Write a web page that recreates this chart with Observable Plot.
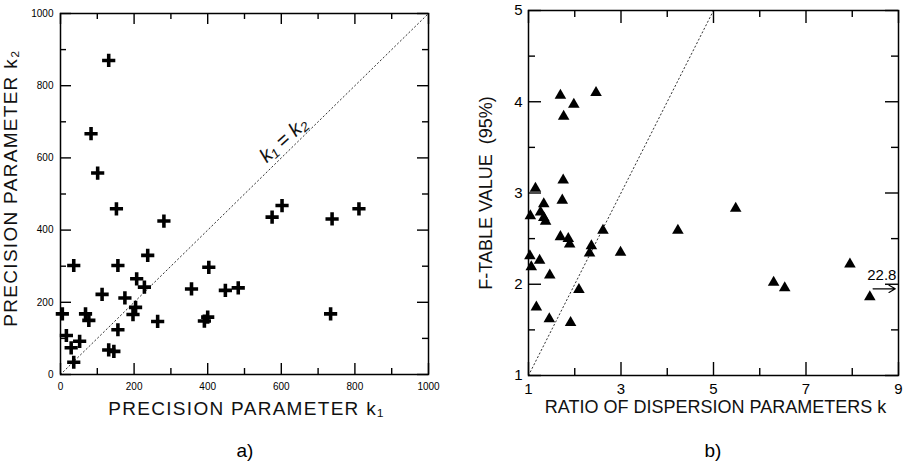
<!DOCTYPE html>
<html>
<head>
<meta charset="utf-8">
<script src="https://cdn.jsdelivr.net/npm/d3@7"></script>
<script src="https://cdn.jsdelivr.net/npm/@observablehq/plot@0.6"></script>
<style>
  html, body { margin: 0; padding: 0; background: #fff; }
  #wrap { position: relative; width: 909px; height: 476px; overflow: hidden; font-family: "Liberation Sans", Arial, sans-serif; }
  #wrap svg { position: absolute; top: 0; overflow: visible; }
  .panel-tag { position: absolute; font-size: 19px; transform: translateX(-50%); }
</style>
</head>
<body>
<div id="wrap"></div>
<script>
// Panel a): precision parameters k1 vs k2
const k1 = [152, 281, 575, 602, 738, 811, 36, 156, 237, 403, 207, 228, 113, 175, 356, 448, 483,
            5, 68, 77, 204, 197, 264, 391, 400, 734, 156, 16, 52, 29, 131, 145, 36, 131, 83, 101];
const k2 = [459, 425, 436, 468, 431, 459, 302, 302, 330, 297, 265, 242, 222, 212, 237, 233, 240,
            168, 168, 150, 186, 166, 147, 148, 159, 168, 124, 108, 92, 74, 68, 64, 34, 870, 667, 558];
const kMajor = [0, 200, 400, 600, 800, 1000];
const kMinor = [100, 300, 500, 700, 900];
const kDiagonal = [0, 1000];

// Panel b): ratio of dispersion parameters vs F-table value
const ratioK = [1.69, 1.98, 1.76, 2.46, 1.75, 1.15, 1.73, 1.33, 1.26, 1.04, 1.33, 1.37, 5.48, 2.61, 4.23,
                1.69, 1.86, 1.89, 2.36, 2.32, 2.99, 1.03, 1.24, 1.06, 1.46, 7.95, 6.30, 6.54, 2.09, 8.38,
                1.17, 1.45, 1.91];
const fValue = [4.07, 3.97, 3.84, 4.10, 3.14, 3.05, 2.92, 2.88, 2.79, 2.75, 2.73, 2.69, 2.83, 2.59, 2.59,
                2.52, 2.50, 2.44, 2.42, 2.34, 2.35, 2.31, 2.26, 2.19, 2.10, 2.22, 2.02, 1.96, 1.94, 1.86,
                1.75, 1.62, 1.58];
const rMajorX = [1, 3, 5, 7, 9];
const rMinorX = [2, 4, 6, 8];
const rMajorY = [1, 2, 3, 4, 5];
const rMinorY = [1.5, 2.5, 3.5, 4.5];
const rDiagonal = [1, 5];
// Off-scale point: value 22.8 indicated by an arrow at the right edge
const offScale = {label: "22.8", x1: 8.45, x2: 8.93, y: 1.95, labelX: 8.64, labelY: 2.1};

const font = '"Liberation Sans", Arial, sans-serif';

// Bold filled plus marker
const plusSymbol = {
  draw(ctx, size) {
    const r = Math.sqrt(size / Math.PI), t = r * 0.27;
    ctx.moveTo(-t, -r); ctx.lineTo(t, -r); ctx.lineTo(t, -t); ctx.lineTo(r, -t);
    ctx.lineTo(r, t); ctx.lineTo(t, t); ctx.lineTo(t, r); ctx.lineTo(-t, r);
    ctx.lineTo(-t, t); ctx.lineTo(-r, t); ctx.lineTo(-r, -t); ctx.lineTo(-t, -t);
    ctx.closePath();
  }
};

// Inward ticks on all four sides of the frame
function frameTicks(xs, ys, len, fw, fh) {
  const o = {stroke: "black", strokeWidth: 1.4};
  return [
    Plot.tickX(xs, {x: d => d, insetTop: fh - len, ...o}),
    Plot.tickX(xs, {x: d => d, insetBottom: fh - len, ...o}),
    Plot.tickY(ys, {y: d => d, insetRight: fw - len, ...o}),
    Plot.tickY(ys, {y: d => d, insetLeft: fw - len, ...o})
  ];
}

const title = {textAnchor: "middle", lineAnchor: "middle", fill: "#111"};

// ---- panel a)
const A = {w: 450, h: 476, ml: 60, mr: 22, mt: 13, mb: 102};
const aFW = A.w - A.ml - A.mr, aFH = A.h - A.mt - A.mb;
const pointsA = k1.map((v, i) => ({k1: v, k2: k2[i]}));

const plotA = Plot.plot({
  width: A.w, height: A.h,
  marginLeft: A.ml, marginRight: A.mr, marginTop: A.mt, marginBottom: A.mb,
  x: {domain: [0, 1000]},
  y: {domain: [0, 1000]},
  style: {fontFamily: font, background: "transparent"},
  marks: [
    Plot.line(kDiagonal, {x: d => d, y: d => d, stroke: "#333", strokeWidth: 1, strokeDasharray: "1.3,2.7"}),
    Plot.text(["k\u2081 = k\u2082"], {x: 606, y: 650, rotate: -42, fontSize: 20, fontStyle: "italic", fill: "#111"}),
    Plot.dot(pointsA, {x: "k1", y: "k2", symbol: plusSymbol, r: 6.6, fill: "black", stroke: "none"}),
    Plot.frame({stroke: "black", strokeWidth: 1.5}),
    ...frameTicks(kMajor, kMajor, 11, aFW, aFH),
    ...frameTicks(kMinor, kMinor, 6, aFW, aFH),
    Plot.axisX(kMajor, {anchor: "bottom", tickSize: 0, tickPadding: 8, fontSize: 10, tickFormat: d => String(d), label: null}),
    Plot.axisY(kMajor, {anchor: "left", tickSize: 0, tickPadding: 7, fontSize: 10, tickFormat: d => String(d), label: null}),
    Plot.text(["PRECISION PARAMETER k\u2081"], {frameAnchor: "bottom", dx: 2, dy: 34, fontSize: 19, ...title}),
    Plot.text(["PRECISION PARAMETER k\u2082"], {frameAnchor: "left", rotate: -90, dx: -50, dy: -6, fontSize: 19, ...title})
  ]
});

// ---- panel b)
const B = {w: 459, h: 476, ml: 78, mr: 11, mt: 10, mb: 101};
const bFW = B.w - B.ml - B.mr, bFH = B.h - B.mt - B.mb;
const pointsB = ratioK.map((v, i) => ({k: v, f: fValue[i]}));

const plotB = Plot.plot({
  width: B.w, height: B.h,
  marginLeft: B.ml, marginRight: B.mr, marginTop: B.mt, marginBottom: B.mb,
  x: {domain: [1, 9]},
  y: {domain: [1, 5]},
  style: {fontFamily: font, background: "transparent"},
  marks: [
    Plot.line(rDiagonal, {x: d => d, y: d => d, stroke: "#333", strokeWidth: 1, strokeDasharray: "1.3,2.7"}),
    Plot.dot(pointsB, {x: "k", y: "f", symbol: "triangle", r: 4.3, fill: "black", stroke: "none"}),
    Plot.arrow([offScale], {x1: "x1", x2: "x2", y1: "y", y2: "y", stroke: "black", strokeWidth: 1.2, headLength: 9}),
    Plot.text([offScale], {x: "labelX", y: "labelY", text: "label", fontSize: 15}),
    Plot.frame({stroke: "black", strokeWidth: 1.5}),
    ...frameTicks(rMajorX, rMajorY, 13, bFW, bFH),
    ...frameTicks(rMinorX, rMinorY, 7, bFW, bFH),
    Plot.axisX(rMajorX, {anchor: "bottom", tickSize: 0, tickPadding: 8, fontSize: 15, tickFormat: d => String(d), label: null}),
    Plot.axisY(rMajorY, {anchor: "left", tickSize: 0, tickPadding: 6, fontSize: 15, tickFormat: d => String(d), label: null}),
    Plot.text(["RATIO OF DISPERSION PARAMETERS k"], {frameAnchor: "bottom", dx: 2, dy: 32, fontSize: 18, ...title}),
    Plot.text(["F-TABLE VALUE  (95%)"], {frameAnchor: "left", rotate: -90, dx: -42, dy: 0, fontSize: 18, ...title})
  ]
});

const wrap = document.getElementById("wrap");
plotA.style.left = "0px";
plotB.style.left = "450px";
wrap.append(plotA, plotB);

// Wider tracking on the panel a) axis titles; keep the double space in the F-table title
d3.select(plotA).selectAll("text")
  .filter(function() { return this.textContent.startsWith("PRECISION"); })
  .style("letter-spacing", "1.3px");
d3.select(plotB).selectAll("text")
  .filter(function() { return this.textContent.startsWith("F-TABLE"); })
  .style("white-space", "pre");

// Panel tags
for (const [t, x] of [["a)", 245], ["b)", 713]]) {
  const d = document.createElement("div");
  d.className = "panel-tag";
  d.textContent = t;
  d.style.left = x + "px";
  d.style.top = "440px";
  wrap.append(d);
}
</script>
</body>
</html>
